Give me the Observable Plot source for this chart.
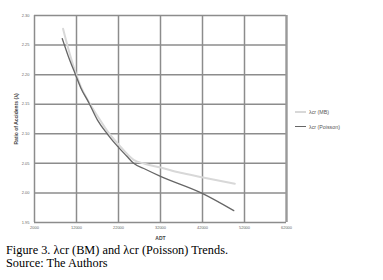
<!DOCTYPE html>
<html>
<head>
<meta charset="utf-8">
<script src="https://cdn.jsdelivr.net/npm/d3@7"></script>
<script src="https://cdn.jsdelivr.net/npm/@observablehq/plot@0.6"></script>
<style>
  body { margin: 0; background: #fff; width: 383px; height: 280px; overflow: hidden; position: relative; font-family: "Liberation Sans", Arial, sans-serif; }
  #chart svg { display: block; }
  #caption { font-family: "Liberation Serif", "Times New Roman", serif; font-size: 12.3px; line-height: 12.5px; padding-left: 6px; color: #000; }
  #legend { position: absolute; left: 295px; top: 104px; font-size: 5.3px; color: #555; }
  #legend div { display: flex; align-items: center; height: 15px; }
  #legend span.sw { display: inline-block; width: 11px; margin-right: 3px; }
</style>
</head>
<body>
<div id="chart"></div>
<div id="legend"></div>
<div id="caption"></div>
<script>
const xTicks = [2000, 12000, 22000, 32000, 42000, 52000, 62000];
const yTicks = [1.95, 2.00, 2.05, 2.10, 2.15, 2.20, 2.25, 2.30];

const mbADT   = [8800, 10000, 11800, 13000, 15000, 17000, 19300, 22000, 25600, 28400, 32000, 36760, 41500, 49700];
const mbRatio = [2.2775, 2.245, 2.203, 2.180, 2.153, 2.130, 2.105, 2.082, 2.056, 2.049, 2.043, 2.034, 2.027, 2.0155];

const poADT   = [8600, 10000, 11760, 13000, 14900, 17000, 19300, 22000, 24000, 25600, 28400, 32000, 41700, 49450];
const poRatio = [2.261, 2.232, 2.200, 2.178, 2.153, 2.123, 2.100, 2.077, 2.062, 2.050, 2.040, 2.028, 2.000, 1.970];

const seriesNames = ["λcr (MB)", "λcr (Poisson)"];
const seriesColors = ["#d8d8d8", "#666666"];
const seriesWidths = [2, 1.3];

const mb = mbADT.map((x, i) => ({x, y: mbRatio[i]}));
const po = poADT.map((x, i) => ({x, y: poRatio[i]}));

const chart = Plot.plot({
  width: 383,
  height: 244,
  marginTop: 15,
  marginBottom: 22,
  marginLeft: 34,
  marginRight: 97,
  style: {background: "#fff", fontFamily: "Liberation Sans, Arial, sans-serif"},
  x: {domain: [2000, 62000]},
  y: {domain: [1.95, 2.30]},
  marks: [
    Plot.gridX(xTicks, {stroke: "#8c8c8c", strokeOpacity: 1, strokeWidth: 1.5}),
    Plot.gridY(yTicks, {stroke: "#8c8c8c", strokeOpacity: 1, strokeWidth: 1.5}),
    Plot.ruleX([62000], {stroke: "#9a9a9a", strokeWidth: 2.2}),
    Plot.axisX(xTicks, {tickSize: 0, tickPadding: 4, fontSize: 4, fill: "#666", tickFormat: d => String(d), label: null}),
    Plot.axisX([], {label: "ADT", labelAnchor: "center", labelArrow: "none", labelOffset: 17, fontSize: 5, fontWeight: "bold", fill: "#444", dx: -25}),
    Plot.axisY(yTicks, {tickSize: 0, tickPadding: 5, fontSize: 4, fill: "#666", tickFormat: d => d.toFixed(2), label: null}),
    Plot.axisY([], {label: "Ratio of Accidents (λ)", labelAnchor: "center", labelArrow: "none", labelOffset: 20, fontSize: 5, fontWeight: "bold", fill: "#444"}),
    Plot.line(mb, {x: "x", y: "y", stroke: seriesColors[0], strokeWidth: seriesWidths[0], curve: "monotone-x"}),
    Plot.line(po, {x: "x", y: "y", stroke: seriesColors[1], strokeWidth: seriesWidths[1], curve: "monotone-x"})
  ]
});
document.getElementById("chart").appendChild(chart);

const legend = document.getElementById("legend");
seriesNames.forEach((name, i) => {
  const row = document.createElement("div");
  const sw = document.createElement("span");
  sw.className = "sw";
  sw.style.borderTop = `${seriesWidths[i]}px solid ${seriesColors[i]}`;
  row.appendChild(sw);
  row.appendChild(document.createTextNode(name));
  legend.appendChild(row);
});

const captionLines = ["Figure 3. λcr (BM) and λcr (Poisson) Trends.", "Source: The Authors"];
const cap = document.getElementById("caption");
captionLines.forEach(t => { const d = document.createElement("div"); d.textContent = t; cap.appendChild(d); });
</script>
</body>
</html>
